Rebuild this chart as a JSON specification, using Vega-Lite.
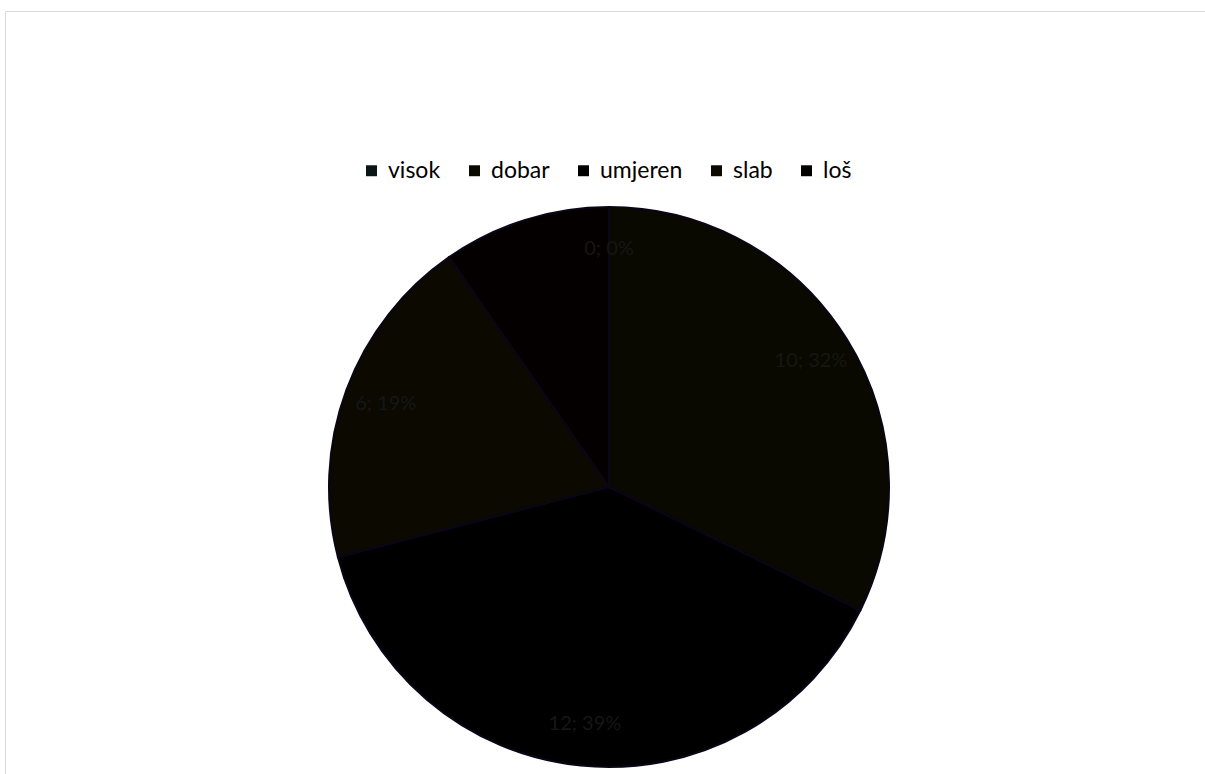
{
  "$schema": "https://vega.github.io/schema/vega-lite/v6.json",
  "width": 1205,
  "height": 774,
  "autosize": "none",
  "padding": {"left": 5, "top": 11, "right": 0, "bottom": 0},
  "background": "white",
  "view": {"stroke": "#d9d9d9", "strokeWidth": 1, "fill": "white"},
  "data": {
    "values": [
      {"kategorija": "visok", "broj": 0, "i": 1, "label": "0; 0%"},
      {"kategorija": "dobar", "broj": 10, "i": 2, "label": "10; 32%"},
      {"kategorija": "umjeren", "broj": 12, "i": 3, "label": "12; 39%"},
      {"kategorija": "slab", "broj": 6, "i": 4, "label": "6; 19%"},
      {"kategorija": "loš", "broj": 3, "i": 5, "label": ""}
    ]
  },
  "encoding": {
    "theta": {"field": "broj", "type": "quantitative", "stack": true},
    "order": {"field": "i", "type": "quantitative"},
    "color": {
      "field": "kategorija",
      "type": "nominal",
      "sort": ["visok", "dobar", "umjeren", "slab", "loš"],
      "scale": {
        "domain": ["visok", "dobar", "umjeren", "slab", "loš"],
        "range": ["#0a1616", "#090900", "#000000", "#0b0900", "#050000"]
      },
      "legend": {
        "orient": "none",
        "legendX": 355,
        "legendY": 148,
        "direction": "horizontal",
        "title": null,
        "symbolType": "square",
        "symbolSize": 120,
        "symbolStrokeWidth": 0,
        "labelFont": "Lato",
        "labelFontSize": 23,
        "labelColor": "#000000",
        "columnPadding": 22,
        "labelOffset": 5,
        "values": ["visok", "dobar", "umjeren", "slab", "loš"]
      }
    }
  },
  "layer": [
    {
      "mark": {"type": "arc", "x": 604, "y": 476, "outerRadius": 280, "stroke": "#0a0618", "strokeWidth": 2}
    },
    {
      "mark": {"type": "text", "x": 604, "y": 476, "radius": 238, "font": "Lato", "fontSize": 20},
      "encoding": {
        "text": {"field": "label"},
        "color": {"value": "#161616"}
      }
    }
  ]
}
